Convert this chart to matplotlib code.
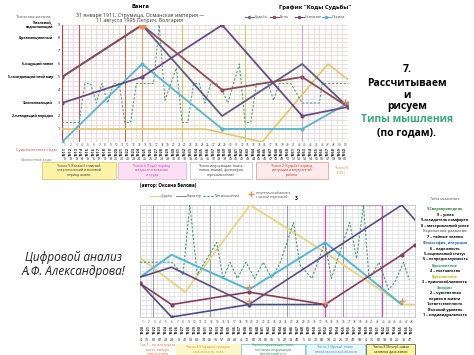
import matplotlib
matplotlib.use("Agg")
import matplotlib.pyplot as plt
from matplotlib.patches import Rectangle

plt.rcParams['font.family'] = ['Open Sans', 'DejaVu Sans']

W, H = 474, 355

# ---------------- top chart data (column index, thinking type 0..9)
top_destiny_x = [0, 14, 28, 42, 50]
top_destiny_y = [5, 9, 4, 5, 2.7]
top_will_x = [0, 14, 28, 42, 50]
top_will_y = [3, 5, 9, 2, 2.7]
top_mind_x = [0, 14, 28, 42, 50]
top_mind_y = [5, 9, 2, 6, 2.7]
top_period_x = [0, 14, 28, 42, 50]
top_period_y = [0, 6, 1, 1, 3]
top_yellow_x = [0, 25, 35, 46.5, 50]
top_yellow_y = [1, 1, 0, 6, 4.8]
top_dash_x = [0, 3, 4, 5, 6, 7, 8, 9, 10, 11, 12, 13, 14, 16, 17, 18, 20, 21, 22, 23,
              24, 25, 26, 27, 28, 29, 31, 32, 33, 34, 35, 36, 37, 38, 40, 42, 45, 45.5, 50]
top_dash_y = [1.5, 1.5, 4.5, 4.5, 3, 4.5, 3, 4.5, 4.5, 1.5, 1.5, 4.5, 4.5, 4.5, 9, 3.2, 5.7, 1.5,
              1.5, 4.5, 4.5, 3, 4.5, 4.5, 4, 3, 6, 1.5, 1.5, 4.5, 4.5, 4.5, 3.2, 4.5, 4.5, 3,
              3, 4.5, 4.5]
top_levels = [9, 8, 6, 5, 3, 2]
top_level_names = ['9-волевой,\nподчиняющий', '8-революционный', '6-ищущий новое',
                   '5-созидающий свой мир', '3-исполняющий', '2-наводящий порядок']
top_years = list(range(1911, 1961))
top_ages = list(range(1, 51))

# ---------------- bottom chart data
bot_yellow_x = [0, 7.9, 19.2, 32.3, 45.7, 48]
bot_yellow_y = [4.75, 2, 9, 5.2, 1, 1]
bot_cyan_x = [0, 5.5, 19, 32.3, 45.7]
bot_cyan_y = [3.2, 5, 2.2, 6, 1]
bot_purple_x = [0, 5.5, 19, 45.7, 48]
bot_purple_y = [3.2, 4, 1, 9, 7.8]
bot_navy_x = [0, 5.5, 19, 32.3]
bot_navy_y = [2.7, 0, 1, 1]
bot_maroon_x = [0, 5.5, 19, 32.3, 45.7, 48]
bot_maroon_y = [2.7, 1, 2, 1, 5, 5.8]
bot_dash_x = [0, 5.6, 7.5, 8.7, 10, 11.3, 13.4, 14.5, 15.7, 17, 18.5, 20, 21.5, 23, 24.5,
              26.8, 27.9, 30, 32.3, 33.4, 36.6, 37.8, 39, 40, 41.7, 43.4, 44.5, 46, 47]
bot_dash_y = [4.4, 4.4, 3.4, 9, 3.4, 4.4, 6, 3.1, 4.4, 3.1, 4.4, 3.1, 4.4, 3.1, 4.4,
              7.6, 4.2, 3.1, 6, 3.1, 7.6, 4.7, 9, 3, 4.4, 2.2, 2.8, 4.4, 3]
bot_plus_x = [19, 19, 32.3, 45.7]
bot_plus_y = [2.4, 1.3, 1.1, 1.3]
bot_nums = ['4', '75', '80', '87', '28', '29', '8', '41', '52', '63', '74', '85', '96', '57',
            '28', '29', '4', '72', '82', '73', '80', '95', '16', '27', '38', '49', '5', '61',
            '72', '83', '94', '25', '26', '37', '48', '59', '4', '75', '82', '93', '14', '25',
            '36', '47']
bot_levels_text = ['9-Сверхпроводник', '9 – успех', '9-созидатель комфорта',
                   '8 – материальный успех', 'Укрепление развития', '7 – тайные знания',
                   'Философия, интуиция', '6 – надежность', '5-социальный статус',
                   '5 – непредсказуемость', 'Вдохновение', '4 – постоянство',
                   'Вдохновение', '3 – приспособляемость', 'Эмоции',
                   '2 – чувственная', 'первая в жизни', '1-ответственность',
                   'Высокий уровень', '1 – индивидуальность']
bot_levels_color = ['#2e7d32', 'k', 'k', 'k', '#777777', 'k', '#1f5fa0', 'k', 'k', 'k',
                    '#2e9e6a', 'k', '#c9b400', 'k', '#2e9e6a', 'k', 'k', 'k', 'k', 'k']


def fig_box(x0, y0, x1, y1):
    return [x0 / W, 1 - y1 / H, (x1 - x0) / W, (y1 - y0) / H]


fig = plt.figure(figsize=(4.74, 3.55), dpi=100)
fig.patch.set_facecolor('white')

# ================= top chart
ax1 = fig.add_axes(fig_box(62, 25, 348, 142))
ax1.set_xlim(0, 50)
ax1.set_ylim(0, 9)
for i in range(51):
    if i < 11:
        c = '#f1c6c6'
    elif i < 21:
        c = '#f3d8c0'
    elif i < 42:
        c = '#eee6b8'
    else:
        c = '#ecd0d8'
    ax1.axvline(i, color=c, lw=0.5, zorder=0)
for k in range(28):
    ax1.axhline(k / 3, color='#e6d2d2', lw=0.5, zorder=0)
for xv, c in [(0, '#cc3333'), (3, '#cc5555'), (11, '#c0704a'), (14, '#e09a55'),
              (21, '#d9c25a'), (32, '#cfcf60'), (42, '#c9a8b8')]:
    ax1.axvline(xv, color=c, lw=0.8, zorder=1)
ax1.plot(top_yellow_x, top_yellow_y, color='#e8c35a', lw=1.1, zorder=3)
ax1.plot(top_dash_x, top_dash_y, color='#4aa58a', lw=0.8, ls=(0, (2, 1.5)), zorder=3)
ax1.plot(top_period_x, top_period_y, color='#53b7d3', lw=1.3, marker='o', ms=2, zorder=4)
ax1.plot(top_mind_x, top_mind_y, color='#5a5e84', lw=1.3, zorder=4)
ax1.plot(top_will_x, top_will_y, color='#6b4a86', lw=1.3, marker='o', ms=2, zorder=5)
ax1.plot(top_destiny_x, top_destiny_y, color='#8c4a5a', lw=1.3, marker='o', ms=2, zorder=5)
ax1.plot([14], [9], marker='o', ms=5, color='#e8905a', zorder=6)
ax1.plot([49.5], [3.1], marker='+', ms=5, color='#e08050', mew=1, zorder=6)
ax1.set_xticks([])
ax1.set_yticks([])
for s in ax1.spines.values():
    s.set_visible(False)

# top chart annotations
fig.text(140 / W, 1 - 7 / H, 'Ванга', fontsize=4.2, fontweight='bold', ha='center', va='center')
fig.text(140 / W, 1 - 15 / H, '31 января 1911, Струмица, Османская империя —', fontsize=3.8,
         ha='center', va='center', color='#333333')
fig.text(140 / W, 1 - 20.5 / H, '11 августа 1996 Петрич, Болгария', fontsize=3.8,
         ha='center', va='center', color='#333333')
fig.text(315 / W, 1 - 7 / H, 'График "Коды Судьбы"', fontsize=4.2, fontweight='bold',
         ha='center', va='center')
fig.text(34 / W, 1 - 17 / H, 'Типы мышления:', fontsize=3, ha='center', va='center',
         color='#555555')
for lv, name in zip(top_levels, top_level_names):
    yy = 142 - lv * 13
    fig.text(53 / W, 1 - yy / H, name, fontsize=2.5, fontweight='bold', ha='right', va='center',
             linespacing=1.0)
for lv in range(1, 10):
    fig.text(59 / W, 1 - (142 - lv * 13) / H, str(lv), fontsize=2.6, ha='center', va='center')
fig.text(36 / W, 1 - 150 / H, 'Судьбоносные годы', fontsize=3.0, color='#d04040', ha='center',
         va='center')
fig.text(36 / W, 1 - 159 / H, 'Личностные коды', fontsize=2.6, color='#777777', ha='center',
         va='center')
for i, (yr, ag) in enumerate(zip(top_years, top_ages)):
    xx = 62 + (i + 0.5) * 286 / 50
    fig.text(xx / W, 1 - 145 / H, str(ag), fontsize=2.2, ha='center', va='center',
             color='#444444')
    fig.text(xx / W, 1 - 152 / H, str(yr), fontsize=2.8, ha='center', va='center', rotation=90,
             fontweight='bold', color='#222222')
    fig.text(xx / W, 1 - 159 / H, '%02d' % (yr % 100), fontsize=2.6, ha='center', va='center',
             color='#222222')

# legend top
ov = fig.add_axes([0, 0, 1, 1])
ov.set_xlim(0, W)
ov.set_ylim(H, 0)
ov.axis('off')
ov.patch.set_alpha(0)
for x0, c, lab in [(245, '#6a7a80', 'Судьба'), (270, '#8c4a5a', 'Воля'),
                   (295, '#6b4a86', 'Сознание'), (322, '#53b7d3', 'Период')]:
    ov.plot([x0, x0 + 9], [17, 17], color=c, lw=0.8)
    ov.plot([x0 + 4.5], [17], marker='o', ms=1.5, color=c)
    ov.text(x0 + 10, 17, lab, fontsize=2.6, va='center', ha='left', color='#444444')

# text boxes under top chart
for x0, x1, fc, ec, tc, txt in [
        (42, 116, '#fbf3a8', '#d8c060', '#333333',
         'Число 9 (Хозяин): главный\nэнергетический и волевой\nпериод жизни'),
        (118, 186, '#fbe0f3', '#e7a7d8', '#c040a0',
         'Число 6 (Труд): период\nсовершенствования\nи труда'),
        (190, 252, '#ffffff', '#bbbbbb', '#333333',
         'Число информации: поиск\nновых знаний, философия,\nпереосмысление'),
        (256, 328, '#fdeaea', '#e09090', '#c03030',
         'Число 2 (Судьба): период\nинтуиции и внутренней\nработы'),
        (330, 352, '#ffffff', '#ffffff', '#e08030', 'Число 8\n(13%)')]:
    ov.add_patch(Rectangle((x0, 162), x1 - x0, 17, facecolor=fc, edgecolor=ec, lw=0.5))
    ov.text((x0 + x1) / 2, 170.5, txt, fontsize=2.4, ha='center', va='center', color=tc,
            linespacing=1.1)

# right text of the slide
rx = 407
ov.text(rx, 70, '7.', fontsize=7.5, fontweight='bold', ha='center', va='center')
ov.text(rx, 83, 'Рассчитываем', fontsize=7.5, fontweight='bold', ha='center', va='center')
ov.text(rx, 95, 'и', fontsize=7.5, fontweight='bold', ha='center', va='center')
ov.text(rx, 107, 'рисуем', fontsize=7.5, fontweight='bold', ha='center', va='center')
ov.text(rx, 120, 'Типы мышления', fontsize=7.5, fontweight='bold', ha='center', va='center',
        color='#3aaa7c')
ov.text(rx, 133, '(по годам).', fontsize=7.5, fontweight='bold', ha='center', va='center')

# left italic text
ov.text(74, 258, 'Цифровой анализ', fontsize=8.5, style='italic', ha='center', va='center',
        color='#222222')
ov.text(74, 272, 'А.Ф. Александрова!', fontsize=8.5, style='italic', ha='center',
        va='center', color='#222222')

# ================= bottom chart
ax2 = fig.add_axes(fig_box(140, 205, 415, 317))
ax2.set_xlim(0, 48)
ax2.set_ylim(0, 9)
for i in range(49):
    ax2.axvline(i, color='#dcdcdc', lw=0.5, zorder=0)
for k in range(28):
    ax2.axhline(k / 3, color='#dcdcdc', lw=0.5, zorder=0)
for xv in [2.3, 12.2, 25.6, 35.4]:
    ax2.axvline(xv, color='#9a9aa8', lw=0.7, zorder=1)
ax2.add_patch(Rectangle((32.3, 0), 9.9, 9, facecolor='none', edgecolor='#c050c0', lw=0.9,
                        zorder=2))
ax2.plot(bot_yellow_x, bot_yellow_y, color='#ecd27a', lw=1.3, zorder=3)
ax2.plot(bot_dash_x, bot_dash_y, color='#3d9b7a', lw=0.8, ls=(0, (2, 1.5)), zorder=3)
ax2.plot(bot_cyan_x, bot_cyan_y, color='#4fb8d8', lw=1.4, zorder=4)
ax2.plot(bot_purple_x, bot_purple_y, color='#5a4a8a', lw=1.2, zorder=4)
ax2.plot(bot_navy_x, bot_navy_y, color='#4a4e86', lw=1.2, marker='o', ms=2, zorder=4)
ax2.plot(bot_maroon_x, bot_maroon_y, color='#8a3a5a', lw=1.2, marker='o', ms=2, zorder=5)
ax2.plot(bot_plus_x, bot_plus_y, ls='none', marker='+', ms=5, mew=1, color='#e8905a', zorder=6)
ax2.set_xticks([])
ax2.set_yticks([])
for s in ax2.spines.values():
    s.set_color('#bbbbbb')
    s.set_linewidth(0.5)

ov.text(140, 186, '(автор: Оксана Белова)', fontsize=3.3, fontweight='bold', ha='left',
        va='center')
for x0, c, ls, lab in [(150, '#ecd27a', '-', 'Судьба'), (176, '#8a8aa0', '-', 'Характер'),
                       (203, '#3d9b7a', (0, (2, 1.5)), 'Тип мышления')]:
    ov.plot([x0, x0 + 10], [196, 196], color=c, lw=0.8, ls=ls)
    ov.text(x0 + 11, 196, lab, fontsize=2.4, ha='left', va='center', color='#444444')
ov.plot([251], [194], marker='+', ms=5, mew=1, color='#e8905a')
ov.text(256, 195, 'энергетический всплеск\nс личной энергетикой', fontsize=2.1, ha='left',
        va='center', color='#444444')
ov.text(296, 198, '3', fontsize=3.5, fontweight='bold', ha='center', va='center')

ov.text(445, 199, 'Типы мышления:', fontsize=2.6, ha='center', va='center', color='#555555')
for j, (t, c) in enumerate(zip(bot_levels_text, bot_levels_color)):
    ov.text(445, 209 + j * 5.6, t, fontsize=2.7, fontweight='bold', ha='center', va='center',
            color=c)

for i in range(48):
    xx = 140 + (i + 0.5) * 275 / 48
    ov.text(xx, 322, str(i + 1), fontsize=2.2, ha='center', va='center', color='#444444')
    ov.text(xx, 330, str(1920 + i), fontsize=2.8, ha='center', va='center', rotation=90,
            fontweight='bold', color='#222222')
for i, n in enumerate(bot_nums):
    xx = 141 + i * 275 / 44
    ov.text(xx, 340, n, fontsize=2.6, ha='center', va='center', color='#222222')

for x0, x1, fc, ec, tc, txt in [
        (140, 175, '#ffffff', '#ffffff', '#e07030', 'Год 1 – начало дороги\nместь, выбора,\nнова в жизни'),
        (176, 240, '#fdf6c8', '#fdf6c8', '#c8a020', 'Число 4 (Порядок): порядок,\nстабильность, сила'),
        (241, 305, '#ffffff', '#5ac0a0', '#2e8a6a', 'Число информации: поиск\nпознания информации\nвнутренний рост'),
        (306, 365, '#eaf6ff', '#8cc8ec', '#3a8ab0', 'Число 3 (Время): поиск\nсвоей творческой области'),
        (366, 415, '#fbf5a0', '#444444', '#222222', 'Число 8 (Вечер): самая\nактивная фаза жизни')]:
    ov.add_patch(Rectangle((x0, 344), x1 - x0, 11, facecolor=fc, edgecolor=ec, lw=0.5))
    ov.text((x0 + x1) / 2, 349.5, txt, fontsize=2.3, ha='center', va='center', color=tc,
            linespacing=1.1)

fig.savefig('out.png', dpi=100)
